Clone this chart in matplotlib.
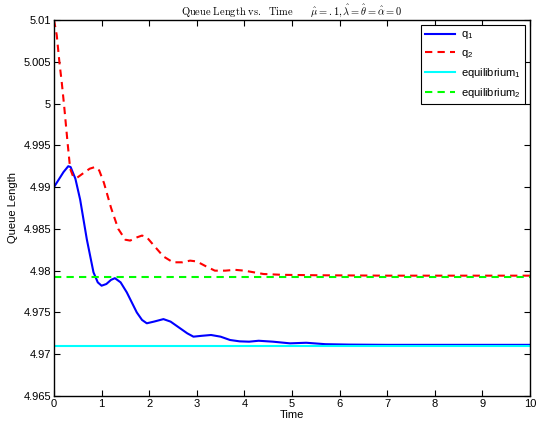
import numpy as np
import matplotlib
matplotlib.use("Agg")
import matplotlib.pyplot as plt
from matplotlib.ticker import FormatStrFormatter

# ---- data ----
t_q1 = [0.0, 0.1, 0.2, 0.3, 0.35, 0.45, 0.55, 0.69, 0.83, 0.92, 1.0, 1.1, 1.2, 1.28,
        1.4, 1.53, 1.74, 1.85, 1.95, 2.1, 2.3, 2.45, 2.65, 2.8, 2.93, 3.1, 3.3, 3.5,
        3.7, 3.9, 4.1, 4.3, 4.6, 4.96, 5.3, 5.7, 6.2, 7.0, 10.0]
q1 = [4.9900, 4.9909, 4.9918, 4.9925, 4.9924, 4.9910, 4.9885, 4.98375, 4.9798, 4.9786,
      4.9782, 4.9784, 4.9789, 4.9791, 4.9786, 4.9774, 4.9750, 4.9741, 4.9737, 4.9739,
      4.9742, 4.9739, 4.9731, 4.9725, 4.9721, 4.9722, 4.9723, 4.9721, 4.9717, 4.97154,
      4.9715, 4.97161, 4.9715, 4.9713, 4.97137, 4.9712, 4.97115, 4.97112, 4.97112]

t_q2 = [0.0, 0.058, 0.115, 0.164, 0.214, 0.286, 0.34, 0.4, 0.48, 0.6, 0.75, 0.86,
        0.95, 1.05, 1.2, 1.35, 1.5, 1.6, 1.75, 1.85, 1.95, 2.1, 2.3, 2.5, 2.7, 2.86,
        3.0, 3.2, 3.38, 3.6, 3.8, 4.0, 4.2, 4.4, 4.8, 5.5, 7.0, 10.0]
q2 = [5.0100, 5.0082, 5.0049, 5.0025, 4.9997, 4.9953, 4.9922, 4.9913, 4.9911, 4.9916,
      4.9922, 4.9924, 4.9920, 4.9905, 4.9875, 4.9850, 4.9837, 4.9836, 4.9840, 4.9842,
      4.9840, 4.9830, 4.9817, 4.9810, 4.9810, 4.9812, 4.9811, 4.9805, 4.9800, 4.9800,
      4.9801, 4.9800, 4.9798, 4.9796, 4.9795, 4.97945, 4.9794, 4.9794]

eq1 = 4.9710
eq2 = 4.97925
t_range = [0.0, 10.0]

plt.rcParams["font.family"] = ["Liberation Sans", "DejaVu Sans"]
plt.rcParams["mathtext.fontset"] = "custom"
plt.rcParams["mathtext.rm"] = "Liberation Sans"
plt.rcParams["mathtext.it"] = "Liberation Sans:italic"

fig = plt.figure(figsize=(5.36, 4.28), dpi=100)
ax = fig.add_axes([0.1007, 0.0748, 0.888, 0.8785])

lw = 1.5
ax.plot(t_q1, q1, color="blue", lw=lw, label="q$_1$")
ax.plot(t_q2, q2, color="red", lw=lw, ls=(0, (3.5, 2.5)), label="q$_2$")
ax.plot(t_range, [eq1, eq1], color="cyan", lw=lw, label="equilibrium$_1$")
ax.plot(t_range, [eq2, eq2], color="#00ff00", lw=lw, ls=(0, (3.5, 2.5)),
        label="equilibrium$_2$")

ax.set_xlim(0, 10)
ax.set_ylim(4.965, 5.01)
ax.set_xticks(range(0, 11))
ax.set_yticks(np.arange(4.965, 5.0101, 0.005))
ax.yaxis.set_major_formatter(FormatStrFormatter("%g"))
ax.tick_params(direction="in", top=True, right=True, labelsize=8, length=4,
               width=0.8, pad=2)
for s in ax.spines.values():
    s.set_linewidth(1.0)

ax.set_xlabel("Time", fontsize=8, labelpad=1)
ax.set_ylabel("Queue Length", fontsize=8, labelpad=4)
ax.set_title(r"$\mathrm{Queue\ Length\ vs.\ \ Time}\qquad\hat{\mu} = .1, "
             r"\hat{\lambda} = \hat{\theta} = \hat{\alpha} = 0$",
             fontsize=7.5, math_fontfamily="cm", pad=4)

leg = ax.legend(loc="upper right", fontsize=8, fancybox=False, framealpha=1,
                edgecolor="black", borderaxespad=0.45, handlelength=2.7,
                labelspacing=0.55, borderpad=0.4, handletextpad=0.5)
leg.get_frame().set_linewidth(0.8)

fig.savefig("out.png", dpi=100)
